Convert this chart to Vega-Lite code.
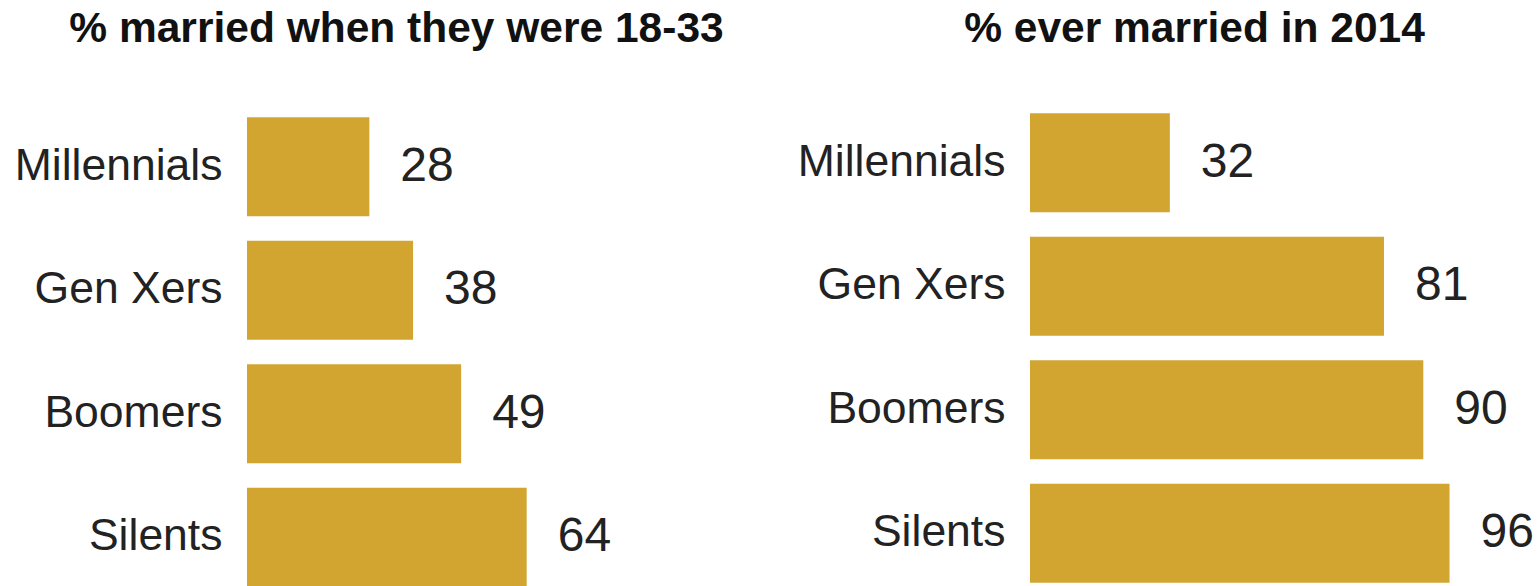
{
  "$schema": "https://vega.github.io/schema/vega-lite/v6.json",
  "background": "white",
  "padding": {"left": 14, "top": 7, "right": 0, "bottom": 0},
  "bounds": "flush",
  "spacing": 346,
  "config": {
    "view": {"stroke": null},
    "font": "Liberation Sans",
    "axis": {"ticks": false, "domain": false, "grid": false, "title": null, "labelFontSize": 44.5, "labelColor": "#222222", "labelPadding": 25, "labelFont": "Liberation Sans", "labelLimit": 400}
  },
  "datasets": {
    "young": [
      {"gen": "Millennials", "pct": 28},
      {"gen": "Gen Xers", "pct": 38},
      {"gen": "Boomers", "pct": 49},
      {"gen": "Silents", "pct": 64}
    ],
    "ever": [
      {"gen": "Millennials", "pct": 32},
      {"gen": "Gen Xers", "pct": 81},
      {"gen": "Boomers", "pct": 90},
      {"gen": "Silents", "pct": 96}
    ]
  },
  "hconcat": [
    {
      "width": 437,
      "height": 494,
      "title": {"text": "% married when they were 18-33", "fontSize": 42.5, "fontWeight": "bold", "color": "#111111", "dx": -69, "offset": 21, "baseline": "alphabetic", "font": "Liberation Sans"},
      "data": {"name": "young"},
      "encoding": {
        "y": {"field": "gen", "type": "nominal", "sort": ["Millennials", "Gen Xers", "Boomers", "Silents"], "scale": {"paddingInner": 0.2, "paddingOuter": 0.1}},
        "x": {"field": "pct", "type": "quantitative", "scale": {"domain": [0, 100]}, "axis": null}
      },
      "layer": [
        {"mark": {"type": "bar", "color": "#D2A531"}},
        {"mark": {"type": "text", "align": "left", "baseline": "middle", "dx": 31, "fontSize": 48, "color": "#222222"}, "encoding": {"text": {"field": "pct", "type": "quantitative"}}}
      ]
    },
    {
      "width": 437,
      "height": 486,
      "title": {"text": "% ever married in 2014", "fontSize": 42.5, "fontWeight": "bold", "color": "#111111", "dx": -54, "offset": 21, "baseline": "alphabetic", "font": "Liberation Sans"},
      "data": {"name": "ever"},
      "encoding": {
        "y": {"field": "gen", "type": "nominal", "sort": ["Millennials", "Gen Xers", "Boomers", "Silents"], "scale": {"paddingInner": 0.2, "paddingOuter": 0.0676}},
        "x": {"field": "pct", "type": "quantitative", "scale": {"domain": [0, 100]}, "axis": null}
      },
      "layer": [
        {"mark": {"type": "bar", "color": "#D2A531"}},
        {"mark": {"type": "text", "align": "left", "baseline": "middle", "dx": 31, "fontSize": 48, "color": "#222222"}, "encoding": {"text": {"field": "pct", "type": "quantitative"}}}
      ]
    }
  ]
}
